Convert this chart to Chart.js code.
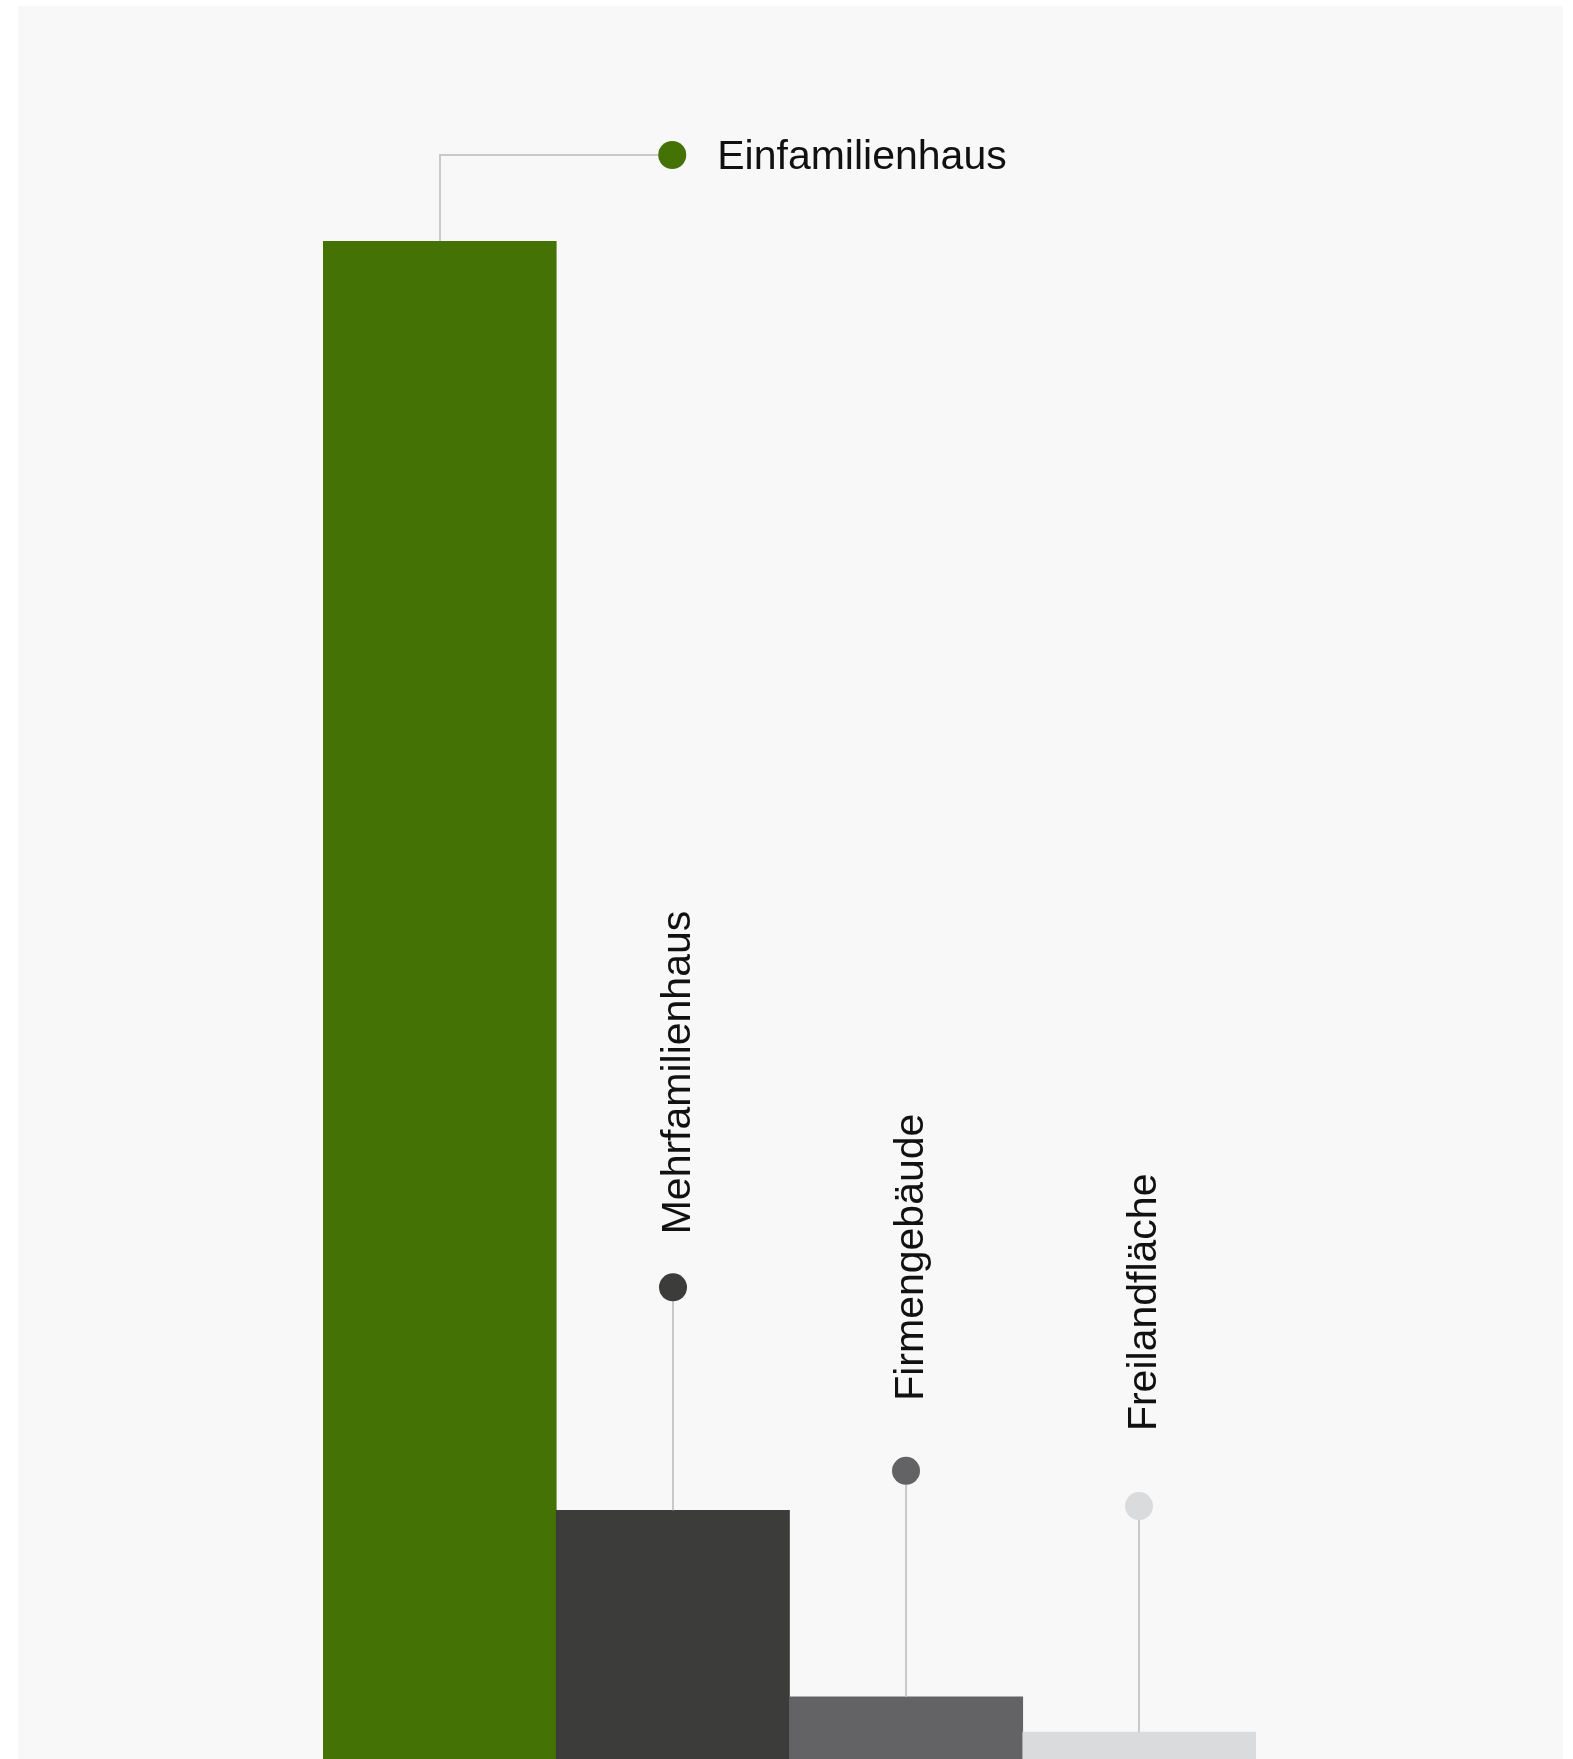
<!DOCTYPE html>
<html>
<head>
<meta charset="utf-8">
<script src="https://cdn.jsdelivr.net/npm/chart.js@4"></script>
<style>
  html, body { margin: 0; padding: 0; background: #ffffff; overflow: hidden; }
  #wrap { position: relative; width: 1573px; height: 1759px; }
  canvas { display: block; }
</style>
</head>
<body>
<div id="wrap"><canvas id="c" width="1573" height="1759"></canvas></div>
<script>
// ---- data ----
const categories = ["Einfamilienhaus", "Mehrfamilienhaus", "Firmengebäude", "Freilandfläche"];
const shares = [81.8, 13.4, 3.35, 1.45];
const barColors = ["#457205", "#3c3c3b", "#636365", "#dadbdc"];

// ---- style ----
const panelColor = "#f8f8f8";
const leaderColor = "#c9c9c9";
const labelFont = "41px 'Liberation Sans', Arial, sans-serif";
const dotRadius = 14;
const dotRise = [0, 223, 226, 226];   // dot distance above bar top (rotated labels)
const textGap = [0, 53, 70, 75];      // dot centre to text start (rotated labels)

const panelPlugin = {
  id: 'panel',
  beforeDraw(chart) {
    const ctx = chart.ctx;
    ctx.save();
    ctx.fillStyle = '#ffffff';
    ctx.fillRect(0, 0, chart.width, chart.height);
    ctx.fillStyle = panelColor;
    ctx.fillRect(18, 6, 1545, chart.height);
    ctx.restore();
  }
};

const labelPlugin = {
  id: 'leaderLabels',
  afterDatasetsDraw(chart) {
    const ctx = chart.ctx;
    const meta = chart.getDatasetMeta(0);
    const xs = chart.scales.x;
    ctx.save();
    meta.data.forEach((bar, i) => {
      const bx = Math.round(bar.x), by = bar.y;
      ctx.strokeStyle = leaderColor;
      ctx.lineWidth = 2;
      if (i === 0) {
        // elbow leader to the right
        const catW = xs.getPixelForValue(1) - xs.getPixelForValue(0);
        const ly = Math.round(by - 86);
        const dx = bx + catW - 1;
        ctx.beginPath();
        ctx.moveTo(bx, by);
        ctx.lineTo(bx, ly);
        ctx.lineTo(dx, ly);
        ctx.stroke();
        ctx.fillStyle = barColors[i];
        ctx.beginPath();
        ctx.arc(dx, ly, dotRadius, 0, Math.PI * 2);
        ctx.fill();
        ctx.fillStyle = '#111111';
        ctx.font = labelFont;
        ctx.textAlign = 'left';
        ctx.textBaseline = 'middle';
        ctx.fillText(categories[i], dx + 45, ly + 3);
      } else {
        const dy = by - dotRise[i];
        ctx.beginPath();
        ctx.moveTo(bx, by);
        ctx.lineTo(bx, dy);
        ctx.stroke();
        ctx.fillStyle = barColors[i];
        ctx.beginPath();
        ctx.arc(bx, dy, dotRadius, 0, Math.PI * 2);
        ctx.fill();
        ctx.save();
        ctx.translate(bx + 17, dy - textGap[i]);
        ctx.rotate(-Math.PI / 2);
        ctx.fillStyle = '#111111';
        ctx.font = labelFont;
        ctx.textAlign = 'left';
        ctx.textBaseline = 'alphabetic';
        ctx.fillText(categories[i], 0, 0);
        ctx.restore();
      }
    });
    ctx.restore();
  }
};

new Chart(document.getElementById('c'), {
  type: 'bar',
  data: {
    labels: categories,
    datasets: [{
      data: shares,
      backgroundColor: barColors,
      borderWidth: 0,
      categoryPercentage: 1.0,
      barPercentage: 1.0
    }]
  },
  options: {
    responsive: false,
    animation: false,
    layout: { padding: { left: 323, right: 317, top: 241, bottom: 0 } },
    plugins: { legend: { display: false }, tooltip: { enabled: false } },
    scales: {
      x: { display: false },
      y: { display: false, min: 0, max: shares[0] }
    }
  },
  plugins: [panelPlugin, labelPlugin]
});
</script>
</body>
</html>
